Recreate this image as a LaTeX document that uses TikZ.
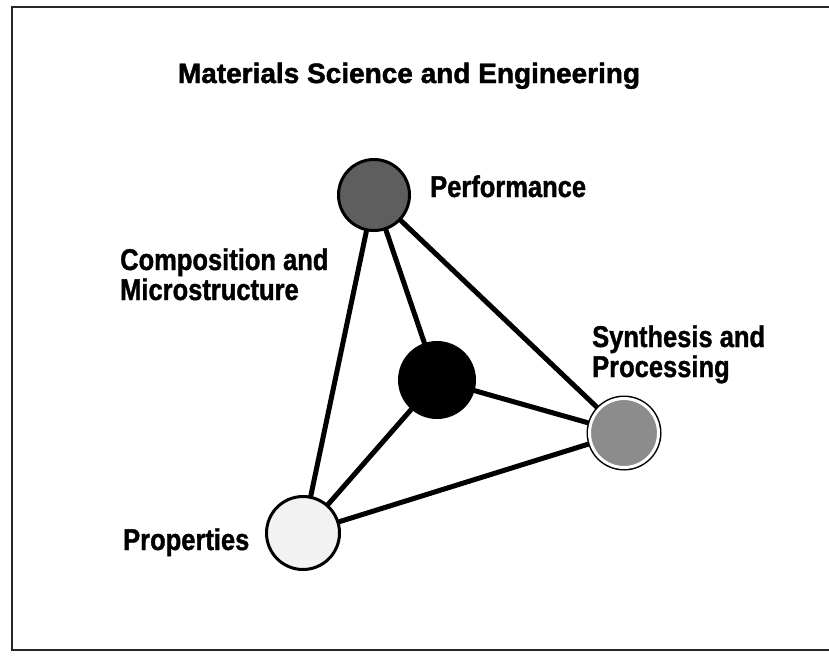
\documentclass[tikz,border=0pt]{standalone}
\usepackage{fontspec}
\setmainfont{Liberation Sans}
\newfontfamily\labfont[FakeStretch=0.85, BoldFeatures={FakeBold=1.2}]{Liberation Sans}
\newfontfamily\titlefont[BoldFeatures={FakeBold=1.6}]{Liberation Sans}
\usetikzlibrary{backgrounds}
\definecolor{perfgray}{HTML}{5E5E5E}
\definecolor{synthgray}{HTML}{8C8C8C}
\definecolor{propgray}{HTML}{F2F2F2}
\tikzset{
  ball/.style={circle, inner sep=0pt, outer sep=0pt, draw=black, line width=3pt},
  lab/.style={anchor=base west, inner sep=0pt, font=\labfont\bfseries\fontsize{30}{36}\selectfont},
  link/.style={line width=5pt, draw=black},
  frame/.style={line width=2.5pt, draw=black!85}
}
\begin{document}
\begin{tikzpicture}[x={(1pt,0)}, y={(0,-1pt)}]
\useasboundingbox (0,0) rectangle (829,656);
\draw[frame] (829,7) -- (12,7) -- (12,650) -- (829,650);

\node[anchor=base, inner sep=0pt, font=\titlefont\bfseries\fontsize{28}{34}\selectfont] (title) at (409,83) {Materials Science and Engineering};

\node[ball, fill=perfgray, minimum size=71] (perf) at (374,195) {};
\node[ball, fill=black, minimum size=75] (comp) at (437,380) {};
\node[circle, inner sep=0pt, outer sep=0pt, minimum size=69, fill=synthgray, draw=white, line width=3pt,
      preaction={draw=black, line width=6pt}] (synth) at (624,433) {};
\node[ball, fill=propgray, minimum size=73] (prop) at (303,533) {};

\begin{scope}[on background layer]
\draw[link] (perf) -- (prop);
\draw[link] (perf) -- (comp);
\draw[link] (perf) -- (synth);
\draw[link] (comp) -- (synth);
\draw[link] (comp) -- (prop);
\draw[link] (prop) -- (synth);
\end{scope}

\node[lab] (perflab) at (430,197) {Performance};
\node[lab] (complab1) at (120,270) {Composition and};
\node[lab] (complab2) at (120,300) {Microstructure};
\node[lab] (synthlab1) at (592,347) {Synthesis and};
\node[lab] (synthlab2) at (592,377) {Processing};
\node[lab] (proplab) at (123,550) {Properties};
\end{tikzpicture}
\end{document}
